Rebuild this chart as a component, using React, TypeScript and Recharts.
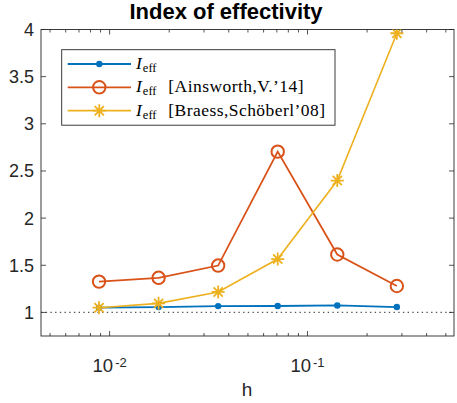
import React from 'react';
import {
  LineChart,
  Line,
  XAxis,
  YAxis,
  ReferenceLine,
  Customized
} from 'recharts';

// mesh sizes and effectivity indices per refinement level
const meshSize = [0.00884, 0.01768, 0.03536, 0.07071, 0.14142, 0.28284];
const ieff = [1.05, 1.057, 1.067, 1.068, 1.074, 1.057];
const ieffAinsworth = [1.327, 1.367, 1.497, 2.705, 1.614, 1.28];
const ieffBraess = [1.05, 1.096, 1.217, 1.566, 2.398, 3.96];

const xTicks = [
  0.005, 0.006, 0.007, 0.008, 0.009, 0.01,
  0.02, 0.03, 0.04, 0.05, 0.06, 0.07, 0.08, 0.09, 0.1,
  0.2, 0.3, 0.4, 0.5
];
const xMajor: Record<string, string> = { '0.01': '-2', '0.1': '-1' };
const yTicks = [1, 1.5, 2, 2.5, 3, 3.5, 4];

const legendLabels = ['', '[Ainsworth,V.\u201914]', '[Braess,Sch\u00f6berl\u201908]'];

const data = meshSize.map((h, i) => ({
  h,
  ieff: ieff[i],
  ainsworth: ieffAinsworth[i],
  braess: ieffBraess[i]
}));

const W = 457;
const H = 403;
const margin = { top: 29.5, right: 3, bottom: 0, left: 0 };
const yAxisWidth = 41;
const xAxisHeight = 67;
const box = {
  left: margin.left + yAxisWidth,
  right: W - margin.right,
  top: margin.top,
  bottom: H - margin.bottom - xAxisHeight
};

const AXIS = '#262626';
const BLUE = '#0072BD';
const RED = '#D95319';
const YELLOW = '#EDB120';
const SANS = '"Liberation Sans", Arial, sans-serif';
const SERIF = '"Liberation Serif", "Times New Roman", serif';

const renderXTick = (props: any) => {
  const { x, payload } = props;
  const label = xMajor[String(payload.value)];
  const len = label ? 5 : 3;
  return (
    <g key={`xt-${payload.value}`}>
      <line x1={x} x2={x} y1={box.bottom} y2={box.bottom - len} stroke={AXIS} strokeWidth={0.8} />
      <line x1={x} x2={x} y1={box.top} y2={box.top + len} stroke={AXIS} strokeWidth={0.8} />
      {label && (
        <text x={x} y={371.5} textAnchor="middle" fontFamily={SANS} fill={AXIS}>
          <tspan fontSize={18.5}>10</tspan>
          <tspan fontSize={13} dy={-5} dx={2}>{label}</tspan>
        </text>
      )}
    </g>
  );
};

const renderYTick = (props: any) => {
  const { y, payload } = props;
  return (
    <g key={`yt-${payload.value}`}>
      <line x1={box.left} x2={box.left + 5} y1={y} y2={y} stroke={AXIS} strokeWidth={0.8} />
      <line x1={box.right} x2={box.right - 5} y1={y} y2={y} stroke={AXIS} strokeWidth={0.8} />
      <text x={34} y={y + 6.5} textAnchor="end" fontFamily={SANS} fontSize={18} fill={AXIS}>
        {payload.value}
      </text>
    </g>
  );
};

const BlueDot = (props: any) => {
  const { cx, cy, index } = props;
  return <circle key={`b-${index}`} cx={cx} cy={cy} r={3.2} fill={BLUE} stroke="none" />;
};

const RedCircle = (props: any) => {
  const { cx, cy, index } = props;
  return <circle key={`r-${index}`} cx={cx} cy={cy} r={6.2} fill="none" stroke={RED} strokeWidth={2} />;
};

const starPath = (cx: number, cy: number, s: number) => {
  const d = s * 0.7071;
  return `M${cx - s},${cy}H${cx + s}M${cx},${cy - s}V${cy + s}` +
    `M${cx - d},${cy - d}L${cx + d},${cy + d}M${cx - d},${cy + d}L${cx + d},${cy - d}`;
};

const YellowStar = (props: any) => {
  const { cx, cy, index } = props;
  return <path key={`y-${index}`} d={starPath(cx, cy, 6.5)} stroke={YELLOW} strokeWidth={1.8} fill="none" />;
};

// box frame, title, axis label and legend drawn on top of the series
const Overlay = () => {
  const rows = [64, 87.3, 110.7];
  const colors = [BLUE, RED, YELLOW];
  return (
    <g>
      <rect
        x={box.left}
        y={box.top}
        width={box.right - box.left}
        height={box.bottom - box.top}
        fill="none"
        stroke={AXIS}
        strokeWidth={0.9}
      />
      <text x={226} y={19} textAnchor="middle" fontFamily={SANS} fontWeight="bold" fontSize={22} fill="#000">
        Index of effectivity
      </text>
      <text x={247} y={396} textAnchor="middle" fontFamily={SANS} fontSize={19} fill={AXIS}>
        h
      </text>
      <rect x={61.7} y={49.7} width={273.3} height={75.5} fill="#fff" stroke={AXIS} strokeWidth={0.9} />
      {rows.map((ry, i) => (
        <g key={i}>
          <line x1={67.7} x2={131} y1={ry} y2={ry} stroke={colors[i]} strokeWidth={1.8} />
          {i === 0 && <circle cx={99.3} cy={ry} r={3.2} fill={BLUE} />}
          {i === 1 && <circle cx={99.3} cy={ry} r={6.2} fill="none" stroke={RED} strokeWidth={2} />}
          {i === 2 && <path d={starPath(99.3, ry, 6.5)} stroke={YELLOW} strokeWidth={1.8} fill="none" />}
          <text x={136} y={ry + 4.8} fontFamily={SERIF} fontSize={17.5} fill="#000">
            <tspan fontStyle="italic">I</tspan>
            <tspan fontSize={12.5} dy={3} dx={1}>eff</tspan>
            {legendLabels[i] && (
              <tspan x={168.3} dy={-3} letterSpacing={0.45}>{legendLabels[i]}</tspan>
            )}
          </text>
        </g>
      ))}
    </g>
  );
};

const App: React.FC = () => (
  <div style={{ position: 'absolute', left: 0, top: 0, background: '#fff' }}>
    <LineChart width={W} height={H} data={data} margin={margin}>
      <XAxis
        dataKey="h"
        type="number"
        scale="log"
        domain={[0.0045, 0.55]}
        ticks={xTicks}
        tick={renderXTick}
        tickLine={false}
        axisLine={false}
        height={xAxisHeight}
        interval={0}
        allowDataOverflow
      />
      <YAxis
        type="number"
        domain={[0.75, 4]}
        ticks={yTicks}
        tick={renderYTick}
        tickLine={false}
        axisLine={false}
        width={yAxisWidth}
        interval={0}
        allowDataOverflow
      />
      <ReferenceLine y={1} stroke="#555" strokeWidth={1.2} strokeDasharray="1.4 3.3" />
      <Line dataKey="ieff" stroke={BLUE} strokeWidth={1.8} dot={BlueDot} isAnimationActive={false} />
      <Line dataKey="ainsworth" stroke={RED} strokeWidth={1.8} dot={RedCircle} isAnimationActive={false} />
      <Line dataKey="braess" stroke={YELLOW} strokeWidth={1.6} dot={YellowStar} isAnimationActive={false} />
      <Customized component={<Overlay />} />
    </LineChart>
  </div>
);

export default App;
